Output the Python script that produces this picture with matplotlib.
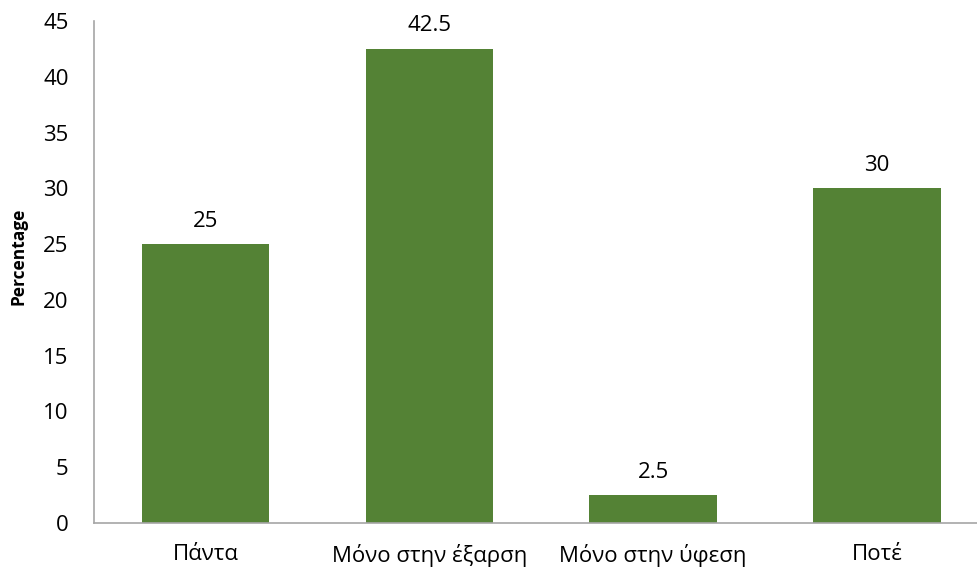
import matplotlib
matplotlib.use("Agg")
import matplotlib.pyplot as plt

categories = ["Πάντα", "Μόνο στην έξαρση", "Μόνο στην ύφεση", "Ποτέ"]
percentages = [25, 42.5, 2.5, 30]
value_labels = ["25", "42.5", "2.5", "30"]
y_ticks = [0, 5, 10, 15, 20, 25, 30, 35, 40, 45]

plt.rcParams["font.family"] = ["Open Sans", "DejaVu Sans"]

W, H = 977, 573
fig = plt.figure(figsize=(W / 100, H / 100), dpi=100)
# axes box in pixel terms: left spine at x=93.6, bottom at y=523, top at y=21
left, right, top, bottom = 93.6, 977, 21, 523
ax = fig.add_axes([left / W, 1 - bottom / H, (right - left) / W, (bottom - top) / H])

x = range(len(categories))
bars = ax.bar(x, percentages, width=0.57, color="#548235")

for i, (v, lab) in enumerate(zip(percentages, value_labels)):
    ax.annotate(lab, (i, v), xytext=(0, 9), textcoords="offset points",
                ha="center", va="bottom", fontsize=16)

ax.set_xlim(-0.5, -0.5 + (right - left) / 223.8)
ax.set_ylim(0, 45)
ax.set_yticks(y_ticks)
ax.set_xticks(list(x))
ax.set_xticklabels(categories)
ax.tick_params(axis="both", length=0, labelsize=16)
ax.tick_params(axis="y", pad=18)
ax.tick_params(axis="x", pad=15)

for side in ["top", "right"]:
    ax.spines[side].set_visible(False)
for side in ["left", "bottom"]:
    ax.spines[side].set_color("#a6a6a6")
    ax.spines[side].set_linewidth(1.2)

ax.set_ylabel("Percentage", fontsize=12.5, fontweight="bold")
ax.yaxis.set_label_coords(-0.075, 0.532)

fig.savefig("out.png", dpi=100)
